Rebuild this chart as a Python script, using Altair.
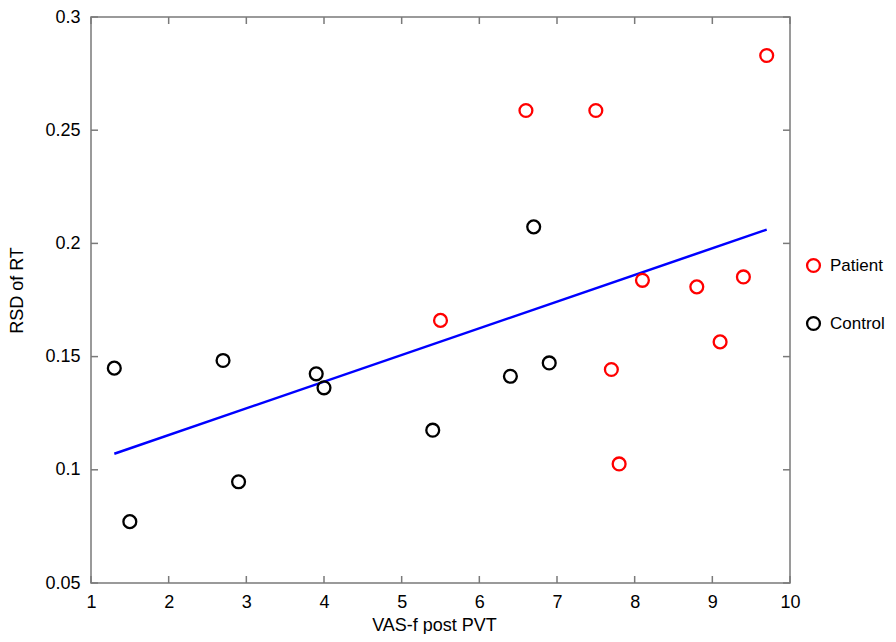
import altair as alt
import pandas as pd

# ---- data ----
control_x = [1.3, 1.5, 2.7, 2.9, 3.9, 4.0, 5.4, 6.4, 6.7, 6.9]
control_y = [0.1449, 0.0771, 0.1483, 0.0947, 0.1424, 0.1362, 0.1175, 0.1413, 0.2073, 0.1472]
patient_x = [5.5, 6.6, 7.5, 7.7, 7.8, 8.1, 8.8, 9.1, 9.4, 9.7]
patient_y = [0.1660, 0.2587, 0.2587, 0.1443, 0.1026, 0.1837, 0.1808, 0.1565, 0.1852, 0.2830]
fit_x = [1.3, 9.7]
fit_y = [0.1071, 0.2061]
x_ticks = [1, 2, 3, 4, 5, 6, 7, 8, 9, 10]
y_ticks = [0.05, 0.1, 0.15, 0.2, 0.25, 0.3]
groups = ["Patient", "Control"]
group_colors = ["#ff0000", "#000000"]

W, H = 699, 566
TICK = 7
GRAY = "#7a7a7a"
FONT = "Liberation Sans"

pts = pd.DataFrame({
    "x": patient_x + control_x,
    "y": patient_y + control_y,
    "group": ["Patient"] * len(patient_x) + ["Control"] * len(control_x),
})
fit = pd.DataFrame({"x": fit_x, "y": fit_y})
xt = pd.DataFrame({"v": x_ticks})
yt = pd.DataFrame({"v": y_ticks})

xs = alt.Scale(domain=[1, 10], nice=False, zero=False)
ys = alt.Scale(domain=[0.05, 0.3], nice=False, zero=False)

x_axis = alt.Axis(
    values=x_ticks, format="d", grid=False, ticks=False, tickSize=0, domain=False,
    labelFontSize=18, labelFont=FONT, labelColor="#000000", labelPadding=10,
    labelFlush=False, labelOverlap=False,
    title="VAS-f post PVT", titleFontSize=18, titleFont=FONT, titleFontWeight="normal",
    titleColor="#000000", titleX=343, titleY=47, titleBaseline="alphabetic",
)
y_axis = alt.Axis(
    values=y_ticks, format=".2~f", grid=False, ticks=False, tickSize=0, domain=False,
    labelFontSize=18, labelFont=FONT, labelColor="#000000", labelPadding=11,
    labelFlush=False, labelOverlap=False,
    title="RSD of RT", titleFontSize=18, titleFont=FONT, titleFontWeight="normal",
    titleColor="#000000", titleX=-69, titleY=273, titleAngle=270, titleBaseline="alphabetic",
)

tick_style = dict(color=GRAY, strokeWidth=1.5)

bottom_ticks = alt.Chart(xt).mark_rule(**tick_style).encode(
    x=alt.X("v:Q", scale=xs, axis=x_axis), y=alt.value(H), y2=alt.value(H - TICK))
top_ticks = alt.Chart(xt).mark_rule(**tick_style).encode(
    x=alt.X("v:Q", scale=xs), y=alt.value(0), y2=alt.value(TICK))
left_ticks = alt.Chart(yt).mark_rule(**tick_style).encode(
    y=alt.Y("v:Q", scale=ys, axis=y_axis), x=alt.value(0), x2=alt.value(TICK))
right_ticks = alt.Chart(yt).mark_rule(**tick_style).encode(
    y=alt.Y("v:Q", scale=ys), x=alt.value(W), x2=alt.value(W - TICK))

line = alt.Chart(fit).mark_line(color="#0000ff", strokeWidth=2.5).encode(
    x=alt.X("x:Q", scale=xs), y=alt.Y("y:Q", scale=ys))

points = alt.Chart(pts).mark_point(shape="circle", filled=False, strokeWidth=2.3, size=165, opacity=1).encode(
    x=alt.X("x:Q", scale=xs),
    y=alt.Y("y:Q", scale=ys),
    color=alt.Color("group:N", scale=alt.Scale(domain=groups, range=group_colors),
                    legend=alt.Legend(title=None, orient="none", legendX=714, legendY=240,
                                      padding=0, symbolType="circle", symbolSize=165,
                                      symbolStrokeWidth=2.3, symbolFillColor="transparent",
                                      labelFontSize=17, labelFont=FONT, labelColor="#000000",
                                      labelOffset=8, rowPadding=35)),
)

chart = alt.layer(bottom_ticks, top_ticks, left_ticks, right_ticks, line, points).properties(
    width=W, height=H,
    autosize=alt.AutoSizeParams(type="none"),
    padding={"left": 83, "top": 9, "right": 98, "bottom": 51},
    background="#ffffff",
).configure_view(stroke=GRAY, strokeWidth=1.5)

chart.save("out.html", embed_options={"renderer": "svg", "actions": False})
